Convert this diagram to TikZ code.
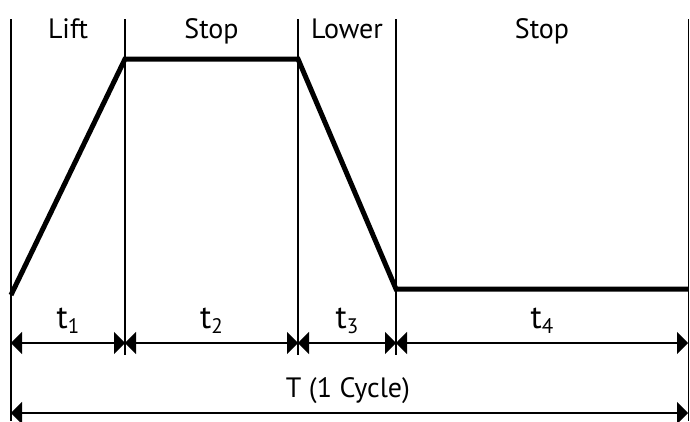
\documentclass[tikz,border=0pt]{standalone}
\usepackage{fontspec}
\setmainfont{PT Sans}
\usetikzlibrary{arrows.meta}
\newcommand{\tsub}[1]{t\raisebox{-5pt}{\fontsize{21}{21}\selectfont #1}}
\begin{document}
\begin{tikzpicture}[x=1pt,y=-1pt,
  vline/.style={line width=1.6pt,black},
  curve/.style={line width=5pt,black,line join=miter,line cap=butt},
  dim/.style={line width=1.6pt,black,{Triangle[length=11pt,width=22pt]}-{Triangle[length=11pt,width=22pt]}},
  phase/.style={font=\fontsize{28}{28}\selectfont,anchor=base},
  tlab/.style={font=\fontsize{33}{33}\selectfont,anchor=base}]
\useasboundingbox (0,0) rectangle (690,421);
% vertical lines
\coordinate (a0) at (11,19);   \coordinate (b0) at (11,421);
\coordinate (a1) at (125,19);  \coordinate (b1) at (125,355);
\coordinate (a2) at (298,19);  \coordinate (b2) at (298,355);
\coordinate (a3) at (396,19);  \coordinate (b3) at (396,355);
\coordinate (a4) at (688.5,19); \coordinate (b4) at (688.5,421);
\foreach \i in {0,...,4} \draw[vline] (a\i) -- (b\i);
% motion profile
\coordinate (p0) at (11,295);
\coordinate (p1) at (125,59);
\coordinate (p2) at (298,59);
\coordinate (p3) at (396,289);
\coordinate (p4) at (688,289);
\draw[curve] (p0) -- (p1) -- (p2) -- (p3) -- (p4);
% dimension arrows
\coordinate (d0) at (11,343);
\coordinate (d1) at (125,343);
\coordinate (d2) at (298,343);
\coordinate (d3) at (396,343);
\coordinate (d4) at (688,343);
\draw[dim] (d0) -- (d1);
\draw[dim] (d1) -- (d2);
\draw[dim] (d2) -- (d3);
\draw[dim] (d3) -- (d4);
\coordinate (e0) at (11,413);
\coordinate (e1) at (688,413);
\draw[dim] (e0) -- (e1);
% labels
\node[phase] (l1) at (68,38) {Lift};
\node[phase] (l2) at (211.5,38) {Stop};
\node[phase] (l3) at (347,38) {Lower};
\node[phase] (l4) at (542,38) {Stop};
\node[tlab] (t1) at (68,328) {\tsub{1}};
\node[tlab] (t2) at (211.5,328) {\tsub{2}};
\node[tlab] (t3) at (347,328) {\tsub{3}};
\node[tlab] (t4) at (542,328) {\tsub{4}};
\node[phase] (tt) at (348,397) {T (1 Cycle)};
\end{tikzpicture}
\end{document}
